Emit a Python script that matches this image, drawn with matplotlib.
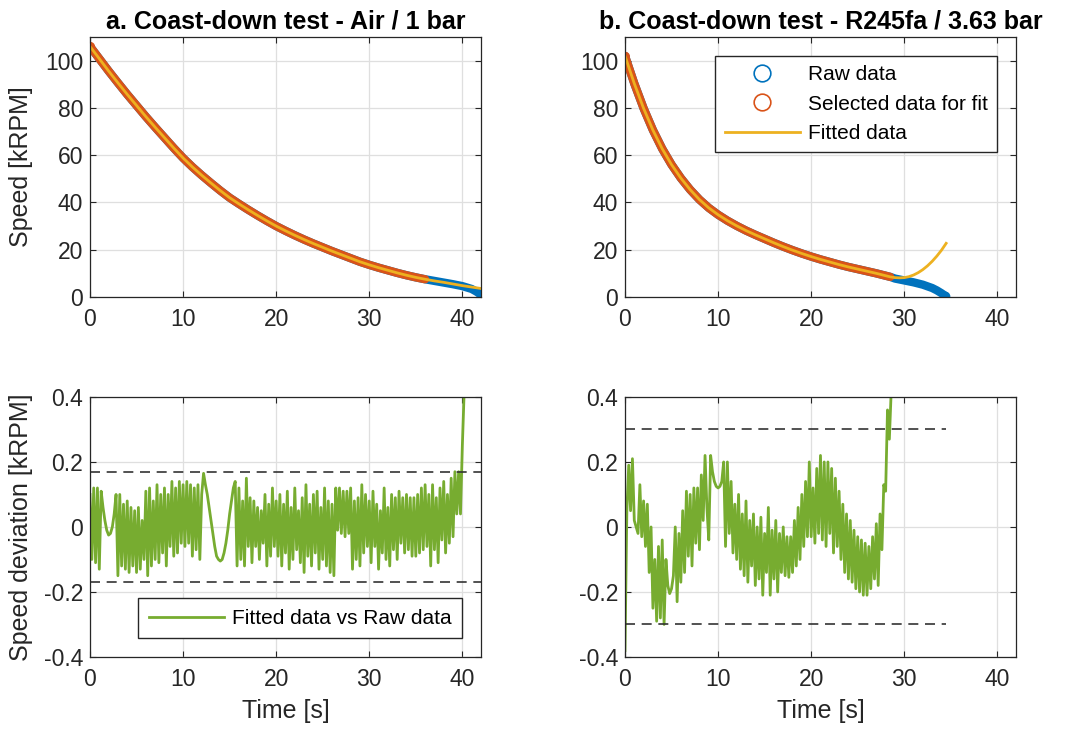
import numpy as np
import matplotlib
matplotlib.use("Agg")
import matplotlib.pyplot as plt
from matplotlib.lines import Line2D

plt.rcParams["font.family"] = ["Liberation Sans", "DejaVu Sans"]
plt.rcParams["axes.unicode_minus"] = False

# MATLAB default colours
c_raw = "#0072BD"
c_sel = "#D95319"
c_fit = "#EDB120"
c_dev = "#77AC30"
c_txt = "#262626"

# ---- a. Air / 1 bar : speed [kRPM] read every second ----
time_a_sel = list(range(0, 37))
speed_a_sel = [106.0, 100.8, 95.6, 90.6, 85.7, 81.0, 76.3, 71.8, 67.4, 63.0,
               58.8, 55.0, 51.5, 48.2, 45.0, 42.0, 39.4, 36.9, 34.5, 32.2,
               30.0, 28.0, 26.1, 24.3, 22.6, 21.0, 19.4, 17.9, 16.4, 14.9,
               13.6, 12.4, 11.3, 10.2, 9.2, 8.3, 7.5]
time_a_raw_tail = [37, 38, 39, 40, 41, 41.5, 42]
speed_a_raw_tail = [6.8, 6.1, 5.4, 4.6, 3.4, 2.3, 1.0]
time_a_fit_tail = [37, 38, 39, 40, 41, 42]
speed_a_fit_tail = [6.8, 6.2, 5.5, 4.8, 4.2, 3.6]

# ---- b. R245fa / 3.63 bar ----
time_b_sel = list(range(0, 29)) + [28.5]
speed_b_sel = [102.0, 90.3, 79.8, 70.6, 62.7, 56.0, 50.3, 45.4, 41.2, 37.7,
               34.8, 32.3, 30.1, 28.1, 26.3, 24.6, 22.9, 21.3, 19.8, 18.4,
               17.1, 15.9, 14.8, 13.7, 12.7, 11.8, 10.9, 10.0, 9.0, 8.5]
time_b_raw_tail = [29, 30, 31, 32, 33, 33.5, 34, 34.4]
speed_b_raw_tail = [7.8, 7.0, 6.2, 5.2, 3.8, 2.8, 1.6, 0.5]
time_b_fit_tail = [29, 29.5, 30, 30.5, 31, 31.5, 32, 32.5, 33, 33.5, 34, 34.5]
speed_b_fit_tail = [8.2, 8.1, 8.2, 8.6, 9.3, 10.3, 11.6, 13.2, 15.1, 17.3, 19.8, 22.7]

# ---- speed deviation [kRPM], sampled every 0.2 s ----
dev_step = 0.2
dev_a = [0.10, -0.10, 0.12, -0.11, 0.12, -0.13, 0.11, 0.06, 0.02, -0.01,
         -0.025, -0.02, 0.00, 0.04, 0.10, -0.15, 0.10, -0.12, 0.07, -0.13,
         0.08, -0.14, 0.06, -0.12, 0.05, -0.14, 0.06, -0.13, 0.02, -0.10,
         0.11, -0.15, 0.12, -0.12, 0.08, -0.10, 0.13, -0.11, 0.10, -0.08,
         0.12, -0.12, 0.10, -0.06, 0.14, -0.09, 0.12, -0.08, 0.14, -0.05,
         0.13, -0.06, 0.14, -0.05, 0.13, -0.09, 0.12, -0.07, 0.13, -0.10,
         0.10, 0.165, 0.13, 0.10, 0.06, 0.02, -0.02, -0.06, -0.09, -0.10,
         -0.105, -0.10, -0.08, -0.05, -0.01, 0.04, 0.08, 0.12, 0.14, -0.12,
         0.12, -0.10, 0.08, -0.12, 0.15, -0.06, 0.09, -0.11, 0.08, -0.06,
         0.06, -0.10, 0.05, -0.05, 0.10, -0.12, 0.07, -0.09, 0.12, -0.06,
         0.08, -0.09, 0.10, -0.12, 0.07, -0.08, 0.11, -0.13, 0.06, -0.10,
         0.12, -0.07, 0.05, -0.11, 0.09, -0.14, 0.13, -0.09, 0.07, -0.12,
         0.10, -0.08, 0.11, -0.13, 0.06, -0.10, 0.12, -0.12, 0.08, -0.14,
         0.07, -0.15, 0.12, -0.01, 0.12, -0.02, 0.11, -0.03, 0.11, -0.02,
         0.12, -0.13, 0.08, -0.10, 0.09, -0.12, 0.13, -0.08, 0.10, -0.06,
         0.08, -0.11, 0.11, -0.06, 0.07, -0.13, 0.05, -0.08, 0.12, -0.10,
         0.06, -0.12, 0.10, -0.07, 0.09, -0.10, 0.11, -0.05, 0.09, -0.08,
         0.10, -0.07, 0.09, -0.09, 0.09, -0.09, 0.10, -0.08, 0.12, -0.07,
         0.13, -0.06, 0.10, -0.12, 0.13, -0.07, 0.09, -0.11, 0.12, -0.04,
         0.14, -0.08, 0.10, -0.05, 0.15, -0.03, 0.17, 0.04, 0.17, 0.04,
         0.25, 0.42]
dev_b = [-0.38, 0.05, 0.19, 0.05, 0.21, 0.02, 0.00, -0.02, 0.13, -0.03,
         0.08, -0.06, 0.07, -0.14, 0.00, -0.25, -0.10, -0.29, -0.06, -0.28,
         -0.04, -0.30, -0.10, -0.18, -0.205, -0.19, -0.15, 0.00, -0.23, -0.02,
         -0.17, 0.05, -0.14, 0.11, -0.09, 0.10, -0.12, 0.12, -0.05, 0.12,
         -0.07, 0.16, 0.02, 0.22, 0.06, -0.04, 0.22, 0.17, 0.14, 0.125,
         0.12, 0.125, 0.14, 0.20, -0.06, 0.20, -0.02, 0.14, -0.08, 0.07,
         -0.10, 0.10, -0.13, 0.04, -0.15, 0.08, -0.17, 0.02, -0.12, 0.04,
         -0.18, 0.00, -0.16, 0.03, -0.21, -0.02, -0.14, 0.06, -0.21, -0.01,
         -0.16, 0.02, -0.20, -0.02, -0.14, 0.00, -0.15, -0.03, -0.155, -0.03,
         -0.14, 0.02, -0.12, 0.06, -0.10, 0.10, -0.06, 0.14, -0.03, 0.20,
         -0.03, 0.12, -0.05, 0.18, -0.02, 0.22, -0.04, 0.20, -0.06, 0.20,
         -0.02, 0.18, -0.08, 0.15, -0.06, 0.11, -0.10, 0.07, -0.14, 0.04,
         -0.16, 0.02, -0.17, -0.01, -0.19, -0.03, -0.20, -0.04, -0.21, -0.05,
         -0.21, -0.06, -0.19, -0.03, -0.16, 0.01, -0.18, 0.04, -0.07, 0.13,
         0.11, 0.36, 0.27, 0.42]

# tolerance bands (dashed)
band_a = 0.17
band_a_end = 42
band_b = 0.30
band_b_end = 34.5

titles = ["a. Coast-down test - Air / 1 bar", "b. Coast-down test - R245fa / 3.63 bar"]
speed_ticks = [0, 20, 40, 60, 80, 100]
dev_ticks = [-0.4, -0.2, 0, 0.2, 0.4]
dev_ticklabels = ["-0.4", "-0.2", "0", "0.2", "0.4"]
time_ticks = [0, 10, 20, 30, 40]

fs_tick = 16.5
fs_label = 18
fs_title = 18
fs_leg = 15

fig = plt.figure(figsize=(10.7, 7.29), dpi=100)
axw, axh = 0.3654, 0.3567
ax_a = fig.add_axes([0.0841, 0.5926, axw, axh])
ax_b = fig.add_axes([0.5841, 0.5926, axw, axh])
ax_c = fig.add_axes([0.0841, 0.0988, axw, axh])
ax_d = fig.add_axes([0.5841, 0.0988, axw, axh])


def style(ax):
    ax.set_xlim(0, 42)
    ax.set_xticks(time_ticks)
    ax.grid(True, color="#dfdfdf", lw=0.9)
    ax.set_axisbelow(True)
    ax.tick_params(direction="in", top=True, right=True, length=4, width=0.8,
                   colors=c_txt, labelsize=fs_tick)
    ax.tick_params(axis="x", pad=8)
    ax.tick_params(axis="y", pad=5)
    for s in ax.spines.values():
        s.set_color(c_txt)
        s.set_linewidth(0.9)


def speed_panel(ax, t_sel, v_sel, t_raw, v_raw, t_fit, v_fit, title):
    t_all = list(t_sel) + list(t_raw)
    v_all = list(v_sel) + list(v_raw)
    ax.plot(t_all, v_all, color=c_raw, lw=6, solid_capstyle="round")
    ax.plot(t_all[-1:], v_all[-1:], "o", ms=6, mfc=c_raw, mec=c_raw)
    ax.plot(t_sel, v_sel, color=c_sel, lw=6, solid_capstyle="round")
    ax.plot(t_sel[:1], v_sel[:1], "o", ms=5.5, mfc="none", mec=c_sel, mew=1)
    ax.plot(list(t_sel) + list(t_fit), list(v_sel) + list(v_fit), color=c_fit, lw=2)
    ax.set_ylim(0, 110)
    ax.set_yticks(speed_ticks)
    style(ax)
    ax.set_title(title, fontsize=fs_title, fontweight="bold", color="black", pad=6)


speed_panel(ax_a, time_a_sel, speed_a_sel, time_a_raw_tail, speed_a_raw_tail,
            time_a_fit_tail, speed_a_fit_tail, titles[0])
speed_panel(ax_b, time_b_sel, speed_b_sel, time_b_raw_tail, speed_b_raw_tail,
            time_b_fit_tail, speed_b_fit_tail, titles[1])
ax_a.set_ylabel("Speed [kRPM]", fontsize=fs_label, color=c_txt)
ax_a.yaxis.set_label_coords(-0.145, 0.5)

handles = [Line2D([], [], ls="none", marker="o", ms=12, mfc="none", mec=c_raw, mew=1.2),
           Line2D([], [], ls="none", marker="o", ms=12, mfc="none", mec=c_sel, mew=1.2),
           Line2D([], [], color=c_fit, lw=2)]
ax_b.legend(handles, ["Raw data", "Selected data for fit", "Fitted data"],
            loc="upper right", fontsize=fs_leg, fancybox=False, framealpha=1,
            edgecolor=c_txt, handlelength=3.6, handletextpad=0.4,
            labelspacing=0.5, borderaxespad=0.9, borderpad=0.45)

for ax, dev, band, band_end in [(ax_c, dev_a, band_a, band_a_end),
                                (ax_d, dev_b, band_b, band_b_end)]:
    t_dev = np.arange(len(dev)) * dev_step
    ax.plot(t_dev, dev, color=c_dev, lw=2, label="Fitted data vs Raw data")
    for y in (band, -band):
        ax.plot([0, band_end], [y, y], color="#333333", lw=1.2, dashes=(6, 4))
    ax.set_ylim(-0.4, 0.4)
    ax.set_yticks(dev_ticks)
    ax.set_yticklabels(dev_ticklabels)
    style(ax)
    ax.set_xlabel("Time [s]", fontsize=fs_label, color=c_txt)
    ax.xaxis.set_label_coords(0.5, -0.16)

ax_c.set_ylabel("Speed deviation [kRPM]", fontsize=fs_label, color=c_txt)
ax_c.yaxis.set_label_coords(-0.145, 0.5)
ax_c.legend(handles=[ax_c.lines[0]], loc="lower right", fontsize=fs_leg, fancybox=False,
            framealpha=1, edgecolor=c_txt, handlelength=3.6, handletextpad=0.4,
            borderaxespad=0.9, borderpad=0.5)

fig.savefig("out.png", dpi=100)
